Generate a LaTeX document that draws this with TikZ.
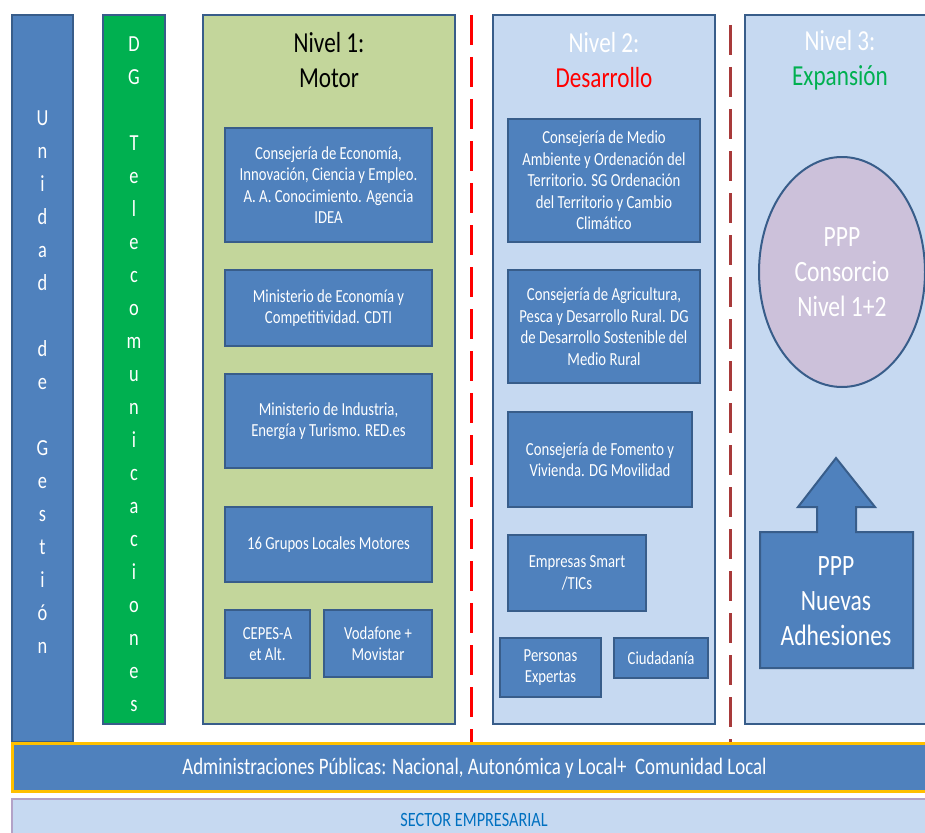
\documentclass[tikz,border=0pt]{standalone}
\usepackage{fontspec}
\setmainfont[FakeStretch=0.8]{Carlito}
\usetikzlibrary{shapes.geometric}
\definecolor{azul}{HTML}{4F81BD}
\definecolor{borde}{HTML}{385D8A}
\definecolor{verde}{HTML}{00B050}
\definecolor{oliva}{HTML}{C3D69B}
\definecolor{celeste}{HTML}{C6D9F1}
\definecolor{lila}{HTML}{CCC1DA}
\definecolor{lilaborde}{HTML}{B3A2C7}
\definecolor{amarillo}{HTML}{FFC000}
\definecolor{azultexto}{HTML}{0070C0}
\definecolor{granate}{HTML}{A83A3A}
\tikzset{
  panel/.style={draw=borde, line width=2pt},
  caja/.style={draw=borde, line width=2pt, fill=azul, text=white, align=center,
    font=\fontsize{18.4}{21.5}\selectfont, inner sep=0pt},
  titulo/.style={align=center, font=\fontsize{29}{35}\selectfont},
  letras/.style={align=center, text=white, font=\fontsize{23}{33}\selectfont},
  grande/.style={align=center, text=white, font=\fontsize{29.5}{35}\selectfont}
}
\begin{document}
\begin{tikzpicture}[x=1pt, y=-1pt]
  \useasboundingbox (0,0) rectangle (925,832);
  \clip (0,0) rectangle (925,832);
  % columnas laterales
  \draw[panel, fill=azul] (12,15) rectangle (73,742);
  \node (unidad) [letras] at (42.5,382) {U\\n\\i\\d\\a\\d\\~\\d\\e\\~\\G\\e\\s\\t\\i\\ó\\n};
  \draw[panel, fill=verde] (103,15) rectangle (165,724);
  \node (dgtel) [letras] at (134,374) {D\\G\\~\\T\\e\\l\\e\\c\\o\\m\\u\\n\\i\\c\\a\\c\\i\\o\\n\\e\\s};
  % nivel 1
  \draw[panel, fill=oliva] (203,15) rectangle (455,724);
  \node (n1) [titulo] at (329,60) {Nivel 1:\\Motor};
  \node (eco) [caja, minimum width=207pt, minimum height=114pt] at (328.5,185)
    {Consejería de Economía,\\Innovación, Ciencia y Empleo.\\A. A. Conocimiento. Agencia\\IDEA};
  \node (cdti) [caja, minimum width=207pt, minimum height=76pt] at (328.5,308)
    {Ministerio de Economía y\\Competitividad. CDTI};
  \node (red) [caja, minimum width=207pt, minimum height=94pt] at (328.5,421)
    {Ministerio de Industria,\\Energía y Turismo. RED.es};
  \node (grupos) [caja, minimum width=207pt, minimum height=75pt] at (328.5,544.5)
    {16 Grupos Locales Motores};
  \node (cepes) [caja, minimum width=85pt, minimum height=68pt] at (267.5,644)
    {CEPES-A\\et Alt.};
  \node (voda) [caja, minimum width=108pt, minimum height=67pt] at (378,643.5)
    {Vodafone +\\Movistar};
  % separador rojo
  \draw[red, line width=3pt, dash pattern=on 30pt off 12pt] (471,15) -- (471,742);
  % nivel 2
  \draw[panel, fill=celeste] (493,15) rectangle (715,724);
  \node (n2) [titulo, text=white] at (604,60) {Nivel 2:\\\textcolor{red}{Desarrollo}};
  \node (medio) [caja, minimum width=192pt, minimum height=123pt] at (604,180.5)
    {Consejería de Medio\\Ambiente y Ordenación del\\Territorio. SG Ordenación\\del Territorio y Cambio\\Climático};
  \node (agri) [caja, minimum width=192pt, minimum height=113pt] at (604,326.5)
    {Consejería de Agricultura,\\Pesca y Desarrollo Rural. DG\\de Desarrollo Sostenible del\\Medio Rural};
  \node (fomento) [caja, minimum width=184pt, minimum height=95pt] at (600,459.5)
    {Consejería de Fomento y\\Vivienda. DG Movilidad};
  \node (smart) [caja, minimum width=138pt, minimum height=76pt] at (577,573)
    {Empresas Smart\\/TICs};
  \node (expertas) [caja, minimum width=101pt, minimum height=59pt] at (550.5,667.5)
    {Personas\\Expertas};
  \node (ciudad) [caja, minimum width=94pt, minimum height=40pt] at (661,658)
    {Ciudadanía};
  % separador granate
  \draw[granate, line width=3pt, dash pattern=on 30pt off 12pt] (730,25) -- (730,742);
  % nivel 3
  \draw[panel, fill=celeste] (745,15) rectangle (935,724);
  \node (n3) [titulo, text=white] at (840,60) {Nivel 3:\\\textcolor{verde}{Expansión}};
  \node (ppp) [ellipse, draw=borde, line width=2pt, fill=lila, minimum width=166pt,
    minimum height=230pt, grande] at (842,272) {PPP\\Consorcio\\Nivel 1+2};
  \draw[panel, fill=azul] (760,532) -- (817,532) -- (817,507) -- (798,507) -- (836,458)
    -- (875,507) -- (856,507) -- (856,532) -- (913,532) -- (913,668) -- (760,668) -- cycle;
  \node (nuevas) [grande] at (836,601) {PPP\\Nuevas\\Adhesiones};
  % barras inferiores
  \draw[fill=azul, draw=amarillo, line width=3pt] (12,743) rectangle (940,791);
  \node (admin) [text=white, font=\fontsize{23.6}{28}\selectfont] at (474.5,768)
    {Administraciones Públicas: Nacional, Autonómica y Local+\ \ Comunidad Local};
  \draw[fill=celeste, draw=lilaborde, line width=2pt] (12,799) rectangle (940,845);
  \node (sector) [text=azultexto, font=\fontsize{20.3}{24}\selectfont] at (474,820)
    {SECTOR EMPRESARIAL};
\end{tikzpicture}
\end{document}
